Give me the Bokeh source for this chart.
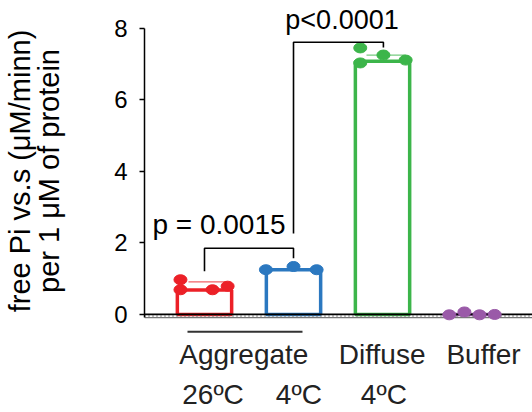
from bokeh.plotting import figure
from bokeh.models import Range1d, FixedTicker, LinearAxis, CustomJSTickFormatter
from bokeh.core.properties import value
from bokeh.embed import file_html
from bokeh.resources import INLINE

# ---- data ----
groups = ["Aggregate 26ºC", "Aggregate 4ºC", "Diffuse 4ºC", "Buffer"]
group_pos = [1, 2, 3, 4]
bar_heights = [0.68, 1.25, 7.08, 0.0]
colors = ["#ec2027", "#2b78c0", "#3cb54a", "#9a5aa8"]

red_vals = [0.97, 0.69, 0.69, 0.79]
red_jit = [-0.27, -0.27, 0.09, 0.26]
blue_vals = [1.25, 1.34, 1.25]
blue_jit = [-0.31, 0.0, 0.26]
green_vals = [7.45, 7.03, 7.25, 7.11]
green_jit = [-0.25, -0.25, 0.01, 0.26]
purple_vals = [-0.01, 0.07, -0.01, 0.0]
purple_jit = [-0.25, -0.08, 0.09, 0.26]
err_hi = [0.91, None, 7.25, None]

ytick_vals = [0, 2, 4, 6, 8]
cat_row1 = ["Aggregate", "Diffuse", "Buffer"]
cat_row1_x = [1.442, 2.996, 4.135]
cat_row2 = ["26ºC", "4ºC", "4ºC"]
cat_row2_x = [1.096, 2.06, 3.015]
p1_text = "p = 0.0015"
p2_text = "p<0.0001"
ylabel1 = "free Pi vs.s (μM/minn)"
ylabel2 = "per 1 μM of protein"

FONT = "Liberation Sans"
X0, X1 = 0.326, 4.685

p = figure(width=532, height=412, output_backend="svg", toolbar_location=None,
           x_range=Range1d(X0, X1), y_range=Range1d(-0.756, 8.775),
           x_axis_location=None, min_border_left=144, min_border_right=0,
           min_border_top=0, min_border_bottom=0)
p.outline_line_color = None
p.grid.visible = False
p.background_fill_color = "white"

ax = p.yaxis[0]
ax.ticker = FixedTicker(ticks=ytick_vals)
ax.bounds = (-0.09, 8)
ax.axis_line_width = 1.5
ax.axis_line_color = "black"
ax.major_tick_out = 5
ax.major_tick_in = 0
ax.major_tick_line_width = 1.5
ax.minor_tick_line_color = None
ax.major_label_text_font = FONT
ax.major_label_text_font_size = "24px"
ax.major_label_text_color = "black"
ax.major_label_standoff = 12
ax.axis_label = ylabel2
ax.axis_label_text_font = FONT
ax.axis_label_text_font_size = "29px"
ax.axis_label_text_font_style = "normal"
ax.axis_label_text_color = "black"
ax.axis_label_standoff = 46

# outer left axis carrying the first title line
ax2 = LinearAxis(ticker=FixedTicker(ticks=[]), axis_line_color=None,
                 major_tick_line_color=None, minor_tick_line_color=None,
                 major_tick_out=0, major_tick_in=0, major_label_standoff=0,
                 axis_label=ylabel1, axis_label_text_font=FONT,
                 axis_label_text_font_size="29px", axis_label_text_font_style="normal",
                 axis_label_text_color="black", axis_label_standoff=-5)
p.add_layout(ax2, "left")


def cat_axis(ticks, labels, standoff):
    a = LinearAxis(ticker=FixedTicker(ticks=ticks),
                   formatter=CustomJSTickFormatter(args=dict(labels=labels),
                                                   code="return labels[index];"),
                   axis_line_color=None, major_tick_line_color=None,
                   minor_tick_line_color=None, major_tick_out=0, major_tick_in=0,
                   major_label_standoff=standoff, major_label_text_font=FONT,
                   major_label_text_font_size="28px", major_label_text_color="#222222")
    return a


p.add_layout(cat_axis(cat_row1_x, cat_row1, -3), "below")
p.add_layout(cat_axis(cat_row2_x, cat_row2, 6), "below")

# bars (open)
p.vbar(x=group_pos, top=bar_heights, width=0.61, fill_color=None,
       line_color=colors, line_width=3.5)

# error caps (thin)
for i, e in enumerate(err_hi):
    if e is not None:
        p.segment(x0=[group_pos[i] - 0.18], x1=[group_pos[i] + 0.26], y0=[e], y1=[e],
                  line_color=colors[i], line_width=1.2, line_alpha=0.7)

# baseline
p.segment(x0=[X0], x1=[X1], y0=[0], y1=[0], line_color="black", line_width=1.8)
p.segment(x0=[X0], x1=[X1], y0=[-0.045], y1=[-0.045], line_color="#555555",
          line_width=1.5, line_dash="1 3")
p.segment(x0=[X0], x1=[X1], y0=[-0.09], y1=[-0.09], line_color="#777777", line_width=1.2)

# points
for vals, jit, gi in [(red_vals, red_jit, 0), (blue_vals, blue_jit, 1),
                      (green_vals, green_jit, 2), (purple_vals, purple_jit, 3)]:
    xs = [group_pos[gi] + j for j in jit]
    p.ellipse(x=xs, y=vals, width=13, height=10, width_units="screen",
              height_units="screen", fill_color=colors[gi], line_color=colors[gi])

# significance brackets
p.line(x=[1, 1, 2, 2], y=[1.21, 1.85, 1.85, 1.57], line_color="black", line_width=1.6)
p.line(x=[2, 2, 3.01, 3.01], y=[2.26, 7.61, 7.61, 7.46], line_color="black", line_width=1.6)
p.text(x=[1.163], y=[2.52], text=[p1_text], text_font=value(FONT), text_font_size="28px",
       text_align="center", text_baseline="middle", text_color="black")
p.text(x=[2.545], y=[8.23], text=[p2_text], text_font=value(FONT), text_font_size="27px",
       text_align="center", text_baseline="middle", text_color="black")

# group underline
p.segment(x0=[0.809], x1=[2.101], y0=[-0.48], y1=[-0.48], line_color="#333333", line_width=2)

open("out.html", "w").write(file_html(p, INLINE))
